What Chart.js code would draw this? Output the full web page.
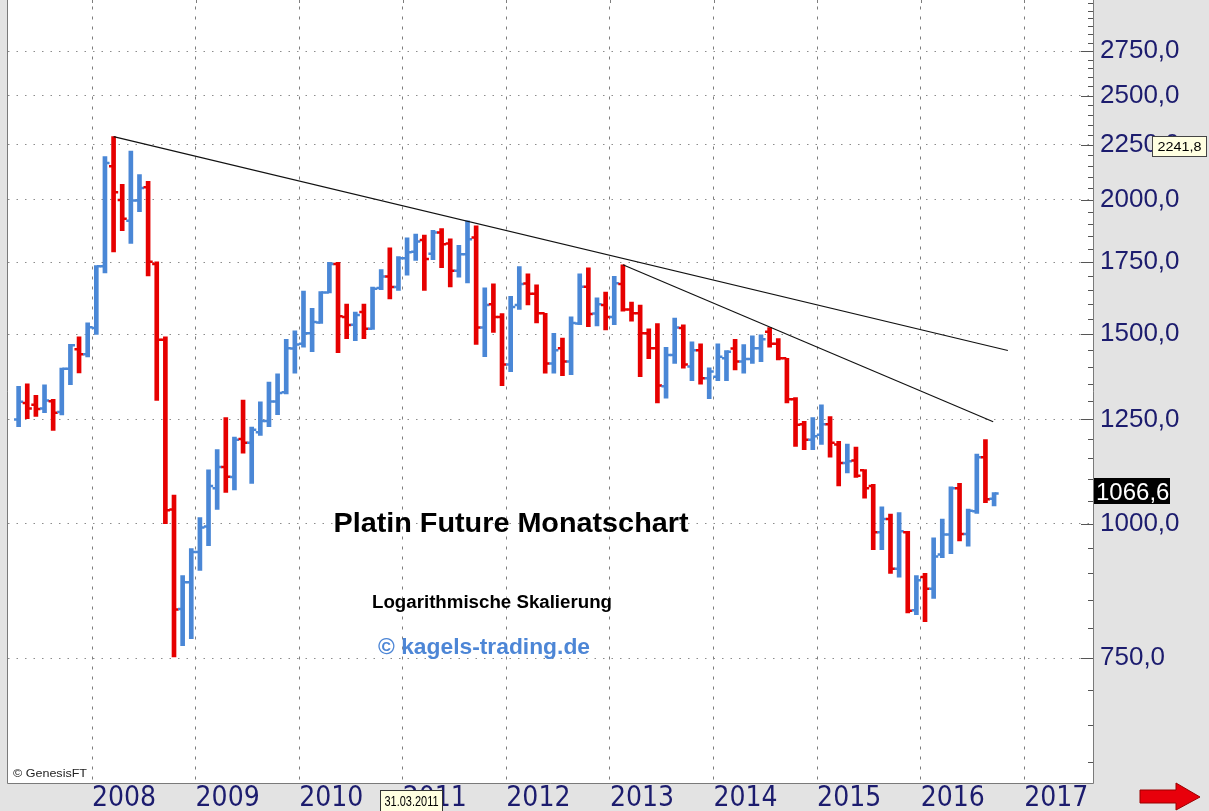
<!DOCTYPE html>
<html>
<head>
<meta charset="utf-8">
<script src="https://cdn.jsdelivr.net/npm/chart.js@4.4.1/dist/chart.umd.min.js"></script>
<style>
html,body{margin:0;padding:0;background:#e3e3e3;}
#wrap{width:1209px;height:811px;position:relative;overflow:hidden;}
canvas{display:block;}
</style>
</head>
<body>
<div id="wrap"><canvas id="c" width="1209" height="811"></canvas></div>
<script>
// Monthly bars, Apr 2007 .. Sep 2016 (month index counted from Jan 2007 = 0)
const firstMonthIndex = 3;
const open = [
  1250,1295,1290,1280,1300,1270,1393,1453,1437,
  1520,1735,2150,2000,1913,1998,2055,1744,1483,1031,833,882,
  941,994,1079,1129,1105,1199,1189,1216,1246,1299,1325,1455,
  1470,1503,1538,1640,1744,1557,1531,1573,1518,1656,1698,1660,
  1765,1790,1836,1782,1865,1822,1719,1780,1845,1522,1600,1557,
  1406,1597,1672,1636,1569,1409,1456,1415,1535,1661,1568,1597,
  1557,1671,1582,1569,1503,1456,1342,1435,1520,1400,1450,1365,
  1370,1425,1455,1415,1423,1456,1508,1470,1425,1305,1237,1197,
  1210,1237,1185,1139,1145,1121,1084,982,1010,908,982,831,
  892,870,936,977,1079,978,1027,1153,1055
];
const high = [
  1342,1349,1316,1346,1305,1395,1468,1492,1537,
  1738,2195,2290,2068,2220,2111,2081,1752,1492,1063,895,948,
  1013,1122,1172,1255,1204,1303,1230,1298,1354,1378,1484,1511,
  1645,1586,1644,1750,1750,1600,1573,1600,1660,1723,1805,1772,
  1844,1859,1855,1874,1881,1840,1815,1912,1892,1657,1671,1568,
  1627,1734,1707,1668,1569,1503,1488,1557,1707,1729,1622,1642,
  1698,1741,1607,1597,1518,1535,1459,1553,1531,1476,1470,1396,
  1470,1449,1484,1467,1495,1498,1522,1486,1425,1310,1245,1255,
  1290,1258,1193,1186,1178,1123,1088,1037,1021,1024,984,895,
  899,970,1010,1082,1090,1032,1161,1197,1069
];
const low = [
  1231,1252,1258,1268,1221,1262,1347,1381,1429,
  1500,1711,1789,1873,1822,1950,1700,1302,1000,752,770,782,
  905,954,1031,1069,1075,1163,1090,1208,1231,1263,1320,1380,
  1459,1445,1535,1639,1442,1486,1480,1486,1516,1650,1618,1648,
  1702,1757,1648,1760,1730,1660,1695,1674,1468,1430,1506,1344,
  1385,1582,1597,1537,1380,1380,1373,1376,1531,1525,1527,1514,
  1531,1576,1543,1370,1424,1295,1308,1409,1395,1358,1348,1307,
  1358,1358,1390,1380,1409,1415,1459,1420,1295,1180,1172,1172,
  1185,1153,1084,1115,1104,1056,946,946,899,892,826,823,
  811,852,930,938,964,953,1022,1046,1039
];
const close = [
  1298,1280,1278,1302,1268,1393,1465,1437,1523,
  1735,2165,2033,1921,1998,2052,1752,1483,1029,832,882,941,
  992,1084,1129,1106,1197,1189,1223,1246,1299,1323,1456,1468,
  1503,1540,1640,1744,1559,1530,1563,1518,1654,1698,1660,1765,
  1788,1830,1762,1865,1819,1719,1780,1839,1522,1597,1557,1406,
  1590,1671,1636,1569,1409,1450,1415,1537,1661,1567,1600,1557,
  1673,1582,1569,1503,1456,1344,1435,1522,1406,1450,1365,1385,
  1430,1445,1415,1423,1456,1484,1470,1425,1305,1236,1197,1206,
  1237,1189,1139,1143,1108,1079,982,1010,908,984,830,886,
  870,932,977,1079,978,1028,1153,1054,1066.6
];
const yearTicks = [2008,2009,2010,2011,2012,2013,2014,2015,2016,2017];
const priceTicks = [750,1000,1250,1500,1750,2000,2250,2500,2750];
// Trend lines (month index, price)
const trend1X = [14.5, 118.1];
const trend1Y = [2290, 1449];
const trend2X = [73.5, 116.4];
const trend2Y = [1741, 1244];

const BLUE = '#4a87d6';
const RED = '#e60000';
const NAVY = '#1c1c6e';
const xs = open.map((_, i) => firstMonthIndex + i + 0.5);
const colors = open.map((o, i) => close[i] >= o ? BLUE : RED);

function fitText(ctx, text, cx, baseY, width, font, color) {
  ctx.save();
  ctx.font = font;
  ctx.fillStyle = color;
  ctx.textAlign = 'center';
  ctx.textBaseline = 'alphabetic';
  const m = ctx.measureText(text).width;
  ctx.translate(cx, baseY);
  ctx.scale(width / m, 1);
  ctx.fillText(text, 0, 0);
  ctx.restore();
}

const deco = {
  id: 'deco',
  beforeDraw(chart) {
    const {ctx, chartArea: a} = chart;
    ctx.save();
    ctx.fillStyle = '#e3e3e3';
    ctx.fillRect(0, 0, chart.width, chart.height);
    ctx.fillStyle = '#ffffff';
    ctx.fillRect(a.left, 0, a.right - a.left, a.bottom);
    ctx.restore();
  },
  beforeDatasetsDraw(chart) {
    const {ctx, chartArea: a, scales} = chart;
    // continue the year grid lines up to the top edge
    ctx.save();
    ctx.strokeStyle = '#7d7d7d';
    ctx.lineWidth = 1;
    ctx.setLineDash([3, 7]);
    yearTicks.forEach(y => {
      const px = Math.round(scales.x.getPixelForValue((y - 2007) * 12)) + 0.5;
      ctx.beginPath(); ctx.moveTo(px, 0); ctx.lineTo(px, a.top); ctx.stroke();
    });
    ctx.restore();
    fitText(ctx, 'Platin Future Monatschart', 511, 532, 355, 'bold 28px "Liberation Sans", Arial, sans-serif', '#000');
    fitText(ctx, 'Logarithmische Skalierung', 492, 608, 240, 'bold 18px "Liberation Sans", Arial, sans-serif', '#000');
    fitText(ctx, '\u00a9 kagels-trading.de', 484, 654, 212, 'bold 22px "Liberation Sans", Arial, sans-serif', '#4d86d6');
    fitText(ctx, '\u00a9 GenesisFT', 50, 777, 74, '11px "Liberation Sans", Arial, sans-serif', '#222');
  },
  afterDraw(chart) {
    const {ctx, chartArea: a, scales} = chart;
    const ys = scales.y;
    ctx.save();
    // plot border
    ctx.strokeStyle = '#7a7a7a';
    ctx.lineWidth = 1;
    ctx.beginPath();
    ctx.moveTo(a.left - 0.5, 0); ctx.lineTo(a.left - 0.5, a.bottom + 0.5);
    ctx.lineTo(a.right + 0.5, a.bottom + 0.5); ctx.lineTo(a.right + 0.5, 0);
    ctx.stroke();
    // right axis tick marks
    ctx.strokeStyle = '#555';
    for (let v = 600; v <= 3100; v += 50) {
      const py = Math.round(ys.getPixelForValue(v)) + 0.5;
      if (py < 0 || py > a.bottom) continue;
      const major = priceTicks.includes(v);
      ctx.beginPath();
      ctx.moveTo(a.right - (major ? 12 : 5), py);
      ctx.lineTo(a.right, py);
      ctx.stroke();
    }
    // last price marker
    ctx.fillStyle = '#000';
    ctx.fillRect(1094, 478, 76, 26);
    ctx.fillStyle = '#fff';
    ctx.font = '24px "Liberation Sans", Arial, sans-serif';
    ctx.textAlign = 'left';
    ctx.textBaseline = 'alphabetic';
    ctx.fillText('1066,6', 1096, 500);
    // hover value box
    ctx.fillStyle = '#ffffe1';
    ctx.fillRect(1152.5, 136.5, 54, 20);
    ctx.strokeStyle = '#444';
    ctx.strokeRect(1152.5, 136.5, 54, 20);
    fitText(ctx, '2241,8', 1179.5, 151, 44, '13px "Liberation Sans", Arial, sans-serif', '#000');
    // date box
    ctx.fillStyle = '#ffffe1';
    ctx.fillRect(380.5, 790.5, 62, 22);
    ctx.strokeStyle = '#333';
    ctx.strokeRect(380.5, 790.5, 62, 22);
    fitText(ctx, '31.03.2011', 411.5, 806, 54, '14px "Liberation Sans Narrow", "Liberation Sans", Arial, sans-serif', '#000');
    // red arrow
    ctx.fillStyle = '#e8000b';
    ctx.strokeStyle = '#9a0000';
    ctx.beginPath();
    ctx.moveTo(1140, 790); ctx.lineTo(1176, 790); ctx.lineTo(1176, 783);
    ctx.lineTo(1200, 797); ctx.lineTo(1176, 810); ctx.lineTo(1176, 803);
    ctx.lineTo(1140, 803); ctx.closePath();
    ctx.fill(); ctx.stroke();
    ctx.restore();
  }
};

new Chart(document.getElementById('c'), {
  type: 'bar',
  data: {
    datasets: [
      {
        type: 'bar',
        data: xs.map((x, i) => ({x: x, y: [low[i], high[i]]})),
        backgroundColor: colors,
        borderWidth: 0,
        barThickness: 4,
        order: 3
      },
      {
        type: 'scatter',
        data: xs.map((x, i) => ({x: x - 0.3, y: open[i]})),
        pointStyle: 'line',
        pointRadius: 2,
        pointBorderWidth: 2.5,
        pointBorderColor: colors,
        pointBackgroundColor: colors,
        showLine: false,
        order: 2
      },
      {
        type: 'scatter',
        data: xs.map((x, i) => ({x: x + 0.3, y: close[i]})),
        pointStyle: 'line',
        pointRadius: 2,
        pointBorderWidth: 2.5,
        pointBorderColor: colors,
        pointBackgroundColor: colors,
        showLine: false,
        order: 2
      },
      {
        type: 'line',
        data: trend1X.map((x, i) => ({x: x, y: trend1Y[i]})),
        borderColor: '#111',
        borderWidth: 1.2,
        pointRadius: 0,
        tension: 0,
        order: 1
      },
      {
        type: 'line',
        data: trend2X.map((x, i) => ({x: x, y: trend2Y[i]})),
        borderColor: '#111',
        borderWidth: 1.2,
        pointRadius: 0,
        tension: 0,
        order: 1
      }
    ]
  },
  options: {
    responsive: false,
    devicePixelRatio: 1,
    animation: false,
    layout: {padding: {left: 8, top: 0, right: 0, bottom: 0}},
    plugins: {legend: {display: false}, tooltip: {enabled: false}},
    scales: {
      x: {
        type: 'linear',
        position: 'bottom',
        min: 2.269,
        max: 127.96,
        offset: false,
        afterBuildTicks: s => { s.ticks = yearTicks.map(y => ({value: (y - 2007) * 12})); },
        afterFit: s => { s.height = 28; s.paddingLeft = 0; s.paddingRight = 0; },
        ticks: {
          autoSkip: false,
          maxRotation: 0,
          align: 'start',
          padding: 2,
          color: NAVY,
          font: {family: '"Liberation Sans Narrow", "DejaVu Sans Condensed", "Liberation Sans", Arial, sans-serif', size: 28, lineHeight: 1},
          callback: v => String(2007 + Math.round(v / 12))
        },
        grid: {offset: false, color: '#7d7d7d', lineWidth: 1, drawTicks: false},
        border: {display: false, dash: [3, 7]}
      },
      y: {
        type: 'logarithmic',
        position: 'right',
        min: 574,
        max: 3026,
        afterBuildTicks: s => { s.ticks = priceTicks.map(v => ({value: v})); },
        afterFit: s => { s.width = 116; s.paddingTop = 0; s.paddingBottom = 0; },
        ticks: {
          autoSkip: false,
          padding: 7,
          color: NAVY,
          font: {family: '"Liberation Sans", Arial, sans-serif', size: 26},
          callback: v => Number(v).toFixed(1).replace('.', ',')
        },
        grid: {color: '#8c8c8c', lineWidth: 1, drawTicks: false},
        border: {display: false, dash: [1.5, 7]}
      }
    }
  },
  plugins: [deco]
});
</script>
</body>
</html>
